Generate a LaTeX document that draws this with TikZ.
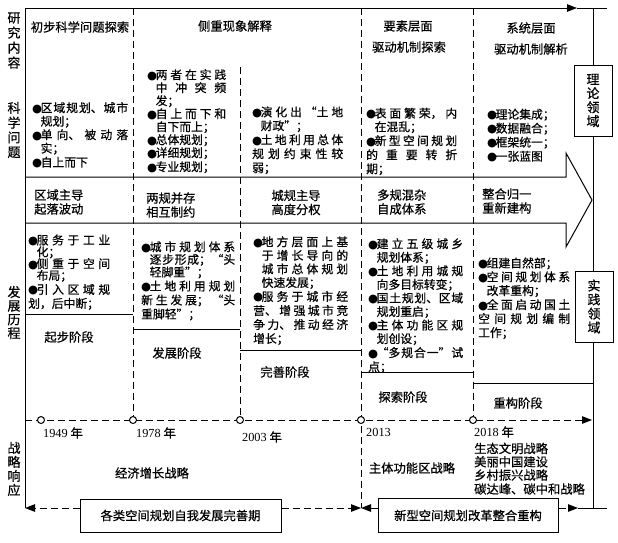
\documentclass[tikz,border=0pt]{standalone}
\usepackage{fontspec}
\setmainfont{Liberation Serif}
\newfontfamily\cjk[FakeBold=0.6]{Noto Sans CJK SC}
\newfontfamily\bul{DejaVu Sans}
\usetikzlibrary{arrows.meta}
\XeTeXlinebreaklocale "zh"
\XeTeXlinebreakskip=0pt plus 1pt
\newcommand\fs[2]{\cjk\fontsize{#1}{#2}\selectfont\lineskiplimit=-20pt\relax}
\newcommand\itm{\par\noindent\hangindent=8.5pt\hangafter=1\makebox[8.5pt][l]{\bul\fontsize{11.5}{11.5}\selectfont ●}}
\newcommand\bsk[1]{\tolerance=10000\hbadness=10000\baselineskip=#1pt\relax}
\tikzset{
  ln/.style={line width=1pt},
  dsh/.style={line width=1pt, dash pattern=on 7pt off 4pt},
  tip/.style={-{Triangle[length=10pt,width=7.5pt]}},
  blk/.style={anchor=north west, inner sep=0pt, text width=#1pt, align=justify, font=\fs{11.8}{14}},
  lbl/.style={inner sep=0pt, font=\fs{12.3}{14}},
  vlbl/.style={inner sep=0pt, align=center, font=\fs{13}{#1}},
  dot/.style={circle, draw, fill=white, line width=1pt, minimum size=7pt, inner sep=0pt},
  box/.style={draw, fill=white, line width=1pt, inner sep=0pt, font=\fs{12.3}{14}},
}
\begin{document}
\begin{tikzpicture}[x=1pt,y=-1pt]
\useasboundingbox (0,0) rectangle (618,542);
% frame coordinates
\coordinate (TL) at (25,8);
\coordinate (BL) at (25,508);
\coordinate (TA) at (577,8);
\coordinate (TR) at (607,8);
\coordinate (RV1) at (593,8);
\coordinate (RV2) at (593,508);
\coordinate (BA) at (578,508);
\coordinate (BR) at (607,508);
\coordinate (M) at (361,508);
\coordinate (TLs) at (25,420);
\coordinate (TLe) at (592,420);
% axes
\draw[ln] (TL) -- (BL);
\draw[ln,tip] (TL) -- (TA);
\draw[ln] (TA) -- (TR);
\draw[ln] (RV1) -- (RV2);
\draw[ln] (BA) -- (BR);
% big arrow band
\draw[ln] (25,177) -- (566,177) -- (566,153) -- (592,200) -- (566,247) -- (566,223) -- (25,223);
% stage separators
\draw[ln] (25,314) -- (133,314);
\draw[ln] (133,329) -- (240,329);
\draw[ln] (240,350) -- (361,350);
\draw[ln] (361,372) -- (473,372);
\draw[ln] (473,383) -- (593,383);
% timeline
\draw[dsh,tip] (TLs) -- (TLe);
\node[dot] (y49) at (41,420) {};
\coordinate (c78) at (133,8);
\coordinate (c03) at (240,67);
\coordinate (c13) at (361,8);
\coordinate (c18) at (473,8);
\draw[dsh] (c78) -- (133,416.5);
\draw[dsh] (c03) -- (240,416.5);
\draw[dsh] (c13) -- (M);
\draw[dsh] (c18) -- (473,416.5);
\node[dot] (y78) at (133,420) {};
\node[dot] (y03) at (240,420) {};
\node[dot] (y13) at (361,420) {};
\node[dot] (y18) at (473,420) {};
% side domain boxes
\node[box, vlbl=14, minimum width=38pt, minimum height=71pt] (th) at (593,100.5) {理\\论\\领\\域};
\node[box, vlbl=14, minimum width=38pt, minimum height=71pt] (pr) at (594,306.5) {实\\践\\领\\域};
% left labels
\node[vlbl=15] (l1) at (14,40.5) {研\\究\\内\\容};
\node[vlbl=14.7] (l2) at (14,130) {科\\学\\问\\题};
\node[vlbl=13.7] (l3) at (14,312.5) {发\\展\\历\\程};
\node[vlbl=14] (l4) at (14,469) {战\\略\\响\\应};
% headers
\node[lbl] (h1) at (80,27) {初步科学问题探索};
\node[lbl] (h2) at (235,26) {侧重现象解释};
\node[lbl] (h3) at (408,26) {要素层面};
\node[lbl] (h3b) at (409,47) {驱动机制探索};
\node[lbl] (h4) at (531,28) {系统层面};
\node[lbl] (h4b) at (531,49) {驱动机制解析};
% science question blocks
\node[blk=96] (t1) at (32,98.5) {\bsk{13.5}\itm 区域规划、城市\linebreak 规划；\itm 单向、被动落\linebreak 实；\itm 自上而下};
\node[blk=79] (t2) at (147,66) {\bsk{13}\itm 两者在实践\linebreak 中冲突频\linebreak 发；\itm 自上而下和\linebreak 自下而上；\itm 总体规划；\itm 详细规划；\itm 专业规划；};
\node[blk=91] (t3) at (252,102.5) {\bsk{13.75}\itm 演化出“土地\linebreak 财政”；\itm 土地利用总体\linebreak 规划约束性较\linebreak 弱；};
\node[blk=91] (t4) at (366,104) {\bsk{13.5}\itm 表面繁荣，内\linebreak 在混乱；\itm 新型空间规划\linebreak 的重要转折\linebreak 期；};
\node[blk=90] (t5) at (487,104.5) {\bsk{14}\itm 理论集成；\itm 数据融合；\itm 框架统一；\itm 一张蓝图};
% band labels
\node[lbl, anchor=west, align=left] (g1) at (34,202) {区域主导\\起落波动};
\node[lbl, anchor=west, align=left] (g2) at (146,205) {两规并存\\相互制约};
\node[lbl, align=center] (g3) at (296,202.5) {城规主导\\高度分权};
\node[lbl, anchor=west, align=left] (g4) at (377,202) {多规混杂\\自成体系};
\node[lbl, anchor=west, align=left] (g5) at (482,201) {整合归一\\重新建构};
% development blocks
\node[blk=82] (d1) at (28,232.5) {\bsk{11.8}\itm 服务于工业\linebreak 化；\itm 侧重于空间\linebreak 布局；\itm 引入区域规\linebreak 划，后中断；};
\node[blk=94] (d2) at (141,238.5) {\bsk{12.6}\itm 城市规划体系\linebreak 逐步形成；“头\linebreak 轻脚重”；\itm 土地利用规划\linebreak 新生发展；“头\linebreak 重脚轻”；};
\node[blk=95] (d3) at (253,232.5) {\bsk{13.57}\itm 地方层面上基\linebreak 于增长导向的\linebreak 城市总体规划\linebreak 快速发展；\itm 服务于城市经\linebreak 营、增强城市竞\linebreak 争力、推动经济\linebreak 增长；};
\node[blk=95] (d4) at (368,234.5) {\bsk{13.55}\itm 建立五级城乡\linebreak 规划体系；\itm 土地利用城规\linebreak 向多目标转变；\itm 国土规划、区域\linebreak 规划重启；\itm 主体功能区规\linebreak 划创设；\itm “多规合一”试\linebreak 点；};
\node[blk=92] (d5) at (478,253.5) {\bsk{13.8}\itm 组建自然部；\itm 空间规划体系\linebreak 改革重构；\itm 全面启动国土\linebreak 空间规划编制\linebreak 工作；};
% stage names
\node[lbl] (s1) at (69,337) {起步阶段};
\node[lbl] (s2) at (177,353) {发展阶段};
\node[lbl] (s3) at (285,372) {完善阶段};
\node[lbl] (s4) at (403,397) {探索阶段};
\node[lbl] (s5) at (518,403) {重构阶段};
% years
\node[lbl] (n49) at (63,433) {{\rmfamily 1949} 年};
\node[lbl] (n78) at (156,433) {{\rmfamily 1978} 年};
\node[lbl] (n03) at (262,437) {{\rmfamily 2003} 年};
\node[lbl, anchor=west] (n13) at (366,432) {\rmfamily 2013};
\node[lbl, anchor=west] (n18) at (474,432) {{\rmfamily 2018} 年};
\node[blk=120, align=left, font=\fs{12.3}{14}] (n18l) at (474,442.5) {\bsk{13.3}生态文明战略\\美丽中国建设\\乡村振兴战略\\碳达峰、碳中和战略};
% strategies
\node[lbl] (st1) at (152,473) {经济增长战略};
\node[lbl] (st2) at (412,468) {主体功能区战略};
% bottom boxes
\node[box, minimum width=201pt, minimum height=33pt] (b1) at (180.5,515.5) {各类空间规划自我发展完善期};
\node[box, minimum width=180pt, minimum height=34pt] (b2) at (468,515.5) {新型空间规划改革整合重构};
\draw[dsh,tip] ([yshift=7.5pt]b1.west) -- (BL);
\draw[dsh,tip] ([yshift=7.5pt]b1.east) -- (M);
\draw[ln,tip] ([yshift=7.5pt]b2.west) -- (M);
\draw[dsh,tip] ([yshift=7.5pt]b2.east) -- (BA);
\end{tikzpicture}
\end{document}
